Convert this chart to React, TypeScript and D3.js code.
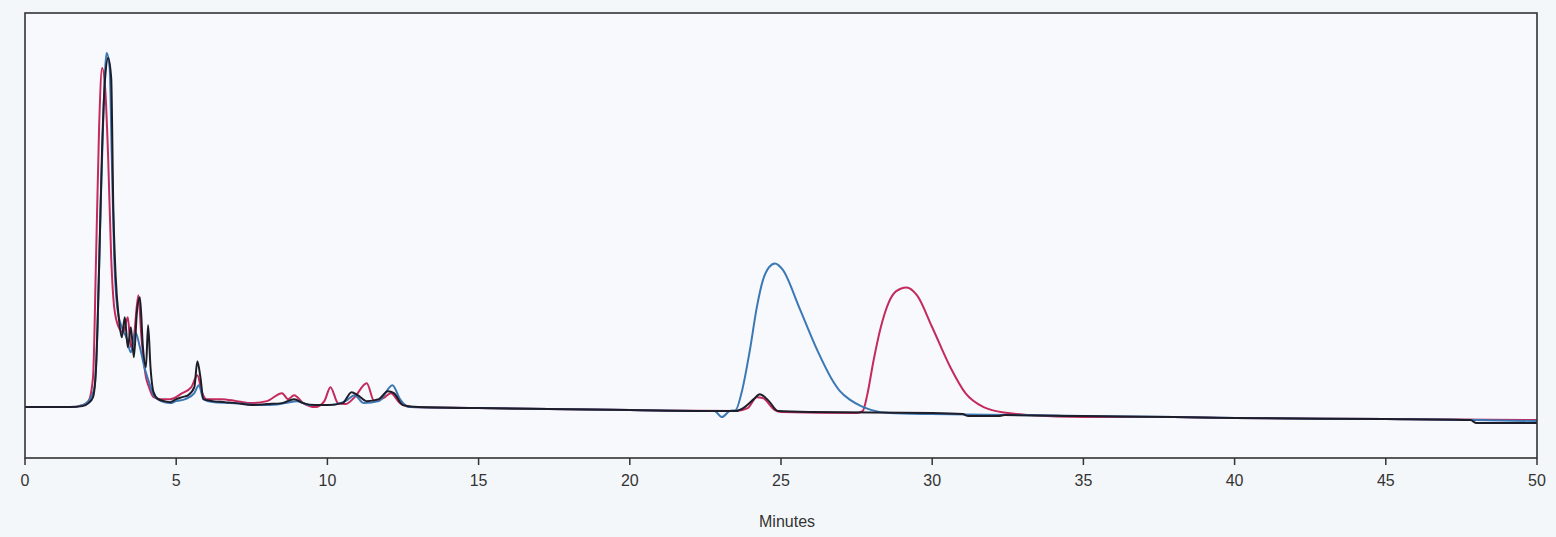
import React from "react";
import * as d3 from "d3";

type P = [number, number];

const xTicks = [0, 5, 10, 15, 20, 25, 30, 35, 40, 45, 50];
const xLabel = "Minutes";

const blackSeries: P[] = [
  [0, 0], [1.5, 0], [1.9, 1], [2.1, 4], [2.25, 10], [2.35, 40], [2.45, 140], [2.55, 260], [2.65, 330], [2.75, 350],
  [2.85, 330], [2.92, 200], [3.0, 130], [3.1, 90], [3.2, 70], [3.3, 90], [3.4, 60], [3.5, 80], [3.6, 50], [3.7, 95],
  [3.8, 110], [3.9, 60], [4.0, 40], [4.07, 82], [4.15, 40], [4.25, 15], [4.4, 8], [4.6, 6], [4.8, 5], [5.0, 8],
  [5.2, 10], [5.4, 12], [5.6, 20], [5.7, 46], [5.8, 30], [5.9, 8], [6.2, 6], [6.6, 5], [7.0, 4], [7.5, 2],
  [8.0, 3], [8.5, 4], [8.9, 8], [9.2, 4], [9.6, 2], [10.0, 2], [10.5, 4], [10.8, 15], [11.0, 12], [11.3, 6],
  [11.7, 8], [12.0, 16], [12.2, 14], [12.5, 2], [13, 0], [15, -1], [20, -3], [23, -4], [23.5, -4], [23.8, 0],
  [24.1, 8], [24.3, 13], [24.6, 6], [24.9, -4], [26, -5], [30, -6], [31, -7], [31.2, -9], [32.2, -9], [32.4, -8],
  [35, -9], [38, -10], [40, -11], [45, -12], [47.8, -13], [48, -16], [50, -16],
];

const redSeries: P[] = [
  [0, 0], [1.5, 0], [1.9, 2], [2.1, 6], [2.25, 30], [2.35, 150], [2.45, 280], [2.55, 340], [2.65, 320], [2.75, 250],
  [2.85, 150], [2.95, 100], [3.1, 80], [3.25, 75], [3.4, 90], [3.5, 60], [3.6, 70], [3.75, 112], [3.85, 70], [4.0, 30],
  [4.1, 20], [4.25, 10], [4.5, 8], [4.8, 8], [5.2, 14], [5.5, 20], [5.7, 32], [5.85, 15], [6.0, 8], [6.5, 8],
  [7, 6], [7.5, 4], [8.0, 6], [8.5, 14], [8.7, 8], [8.9, 12], [9.2, 4], [9.6, 0], [9.9, 6], [10.1, 20],
  [10.35, 4], [10.6, 3], [10.9, 10], [11.3, 24], [11.55, 6], [11.9, 10], [12.1, 14], [12.4, 4], [12.8, 0], [15, -1],
  [20, -3], [23.5, -4], [23.9, -1], [24.2, 10], [24.4, 9], [24.8, -3], [25, -5], [27.5, -6], [27.7, -4], [27.85, 12],
  [28.05, 45], [28.3, 80], [28.55, 104], [28.8, 116], [29.15, 120], [29.5, 112], [30.0, 80], [30.6, 40], [31.1, 14], [31.7, 0],
  [32.5, -6], [33.2, -8], [35, -10], [38, -10], [40, -11], [45, -12], [50, -13],
];

const blueSeries: P[] = [
  [0, 0], [1.5, 0], [1.9, 2], [2.1, 6], [2.3, 20], [2.4, 80], [2.5, 200], [2.6, 300], [2.7, 355], [2.8, 340],
  [2.87, 250], [2.95, 150], [3.05, 100], [3.2, 80], [3.35, 70], [3.5, 55], [3.65, 75], [3.8, 60], [3.95, 40], [4.1, 25],
  [4.25, 12], [4.5, 6], [4.8, 4], [5.0, 6], [5.3, 8], [5.6, 14], [5.75, 22], [5.9, 8], [6.2, 5], [6.8, 4],
  [7.3, 3], [8.0, 2], [8.6, 4], [9.0, 6], [9.4, 2], [10, 2], [10.6, 6], [10.9, 12], [11.2, 4], [11.7, 6],
  [12.15, 22], [12.4, 8], [12.7, 0], [15, -1], [20, -3], [22.8, -4], [23.05, -10], [23.3, -4], [23.5, -3], [23.7, 15],
  [23.97, 57], [24.2, 100], [24.4, 127], [24.6, 140], [24.8, 144], [25.05, 138], [25.6, 100], [26.2, 57], [26.7, 27], [26.95, 16],
  [27.3, 7], [27.65, 1], [28.0, -3], [28.6, -6], [30, -7], [33, -8], [35, -9], [38, -10], [40, -11], [45, -12],
  [48, -13], [50, -14],
];

const W = 1556;
const H = 537;
const left = 25;
const right = 1537;
const top = 13;
const bottom = 458;

export default function App() {
  const x = d3.scaleLinear().domain([0, 50]).range([left, right]);
  const y = d3.scaleLinear().domain([-51, 395]).range([bottom, top]);
  const line = d3
    .line<P>()
    .x((d) => x(d[0]))
    .y((d) => y(d[1]))
    .curve(d3.curveMonotoneX);

  const series = [
    { data: redSeries, color: "#c42a5c" },
    { data: blueSeries, color: "#3b78b5" },
    { data: blackSeries, color: "#1e1e2a" },
  ];

  return (
    <svg
      width={W}
      height={H}
      style={{ position: "absolute", left: 0, top: 0, display: "block" }}
      fontFamily="Liberation Sans, Arial, sans-serif"
    >
      <rect x={0} y={0} width={W} height={H} fill="#f4f7fa" />
      <rect x={left} y={top} width={right - left} height={bottom - top} fill="#f7f9fc" stroke="none" />
      {series.map((s, i) => (
        <path key={i} d={line(s.data) || ""} fill="none" stroke={s.color} strokeWidth={2} strokeLinejoin="round" />
      ))}
      <rect x={left} y={top} width={right - left} height={bottom - top} fill="none" stroke="#333" strokeWidth={1.6} />
      {xTicks.map((t) => (
        <g key={t} transform={`translate(${x(t)},${bottom})`}>
          <line y1={0} y2={7} stroke="#333" strokeWidth={1.5} />
          <text y={28} textAnchor="middle" fontSize={16} fill="#333">
            {t}
          </text>
        </g>
      ))}
      <text x={x(25.2)} y={527} textAnchor="middle" fontSize={16} fill="#333">
        {xLabel}
      </text>
    </svg>
  );
}
